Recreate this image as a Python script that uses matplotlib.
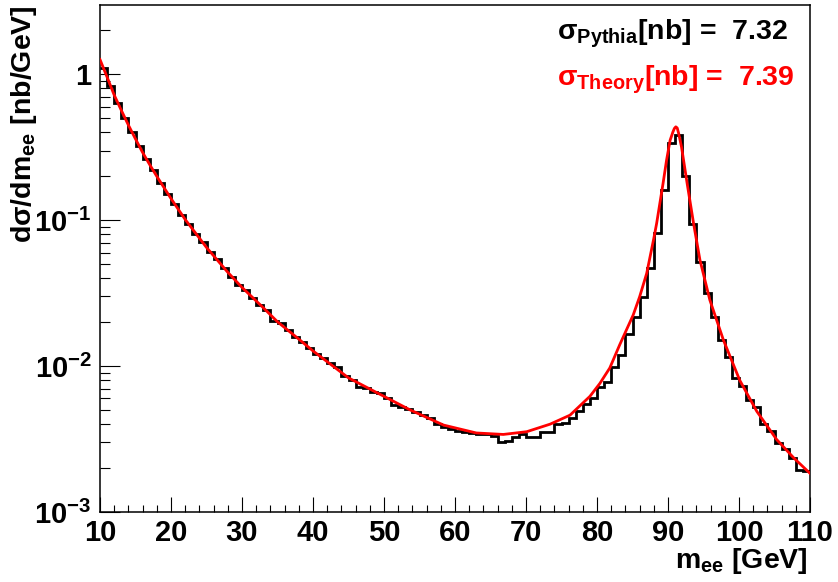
import numpy as np
import matplotlib
matplotlib.use("Agg")
import matplotlib.pyplot as plt
from matplotlib.ticker import FixedLocator, FixedFormatter, LogLocator, NullFormatter, MultipleLocator

plt.rcParams['font.family'] = ['Liberation Sans', 'DejaVu Sans']
plt.rcParams['font.weight'] = 'bold'
plt.rcParams['mathtext.fontset'] = 'custom'
plt.rcParams['mathtext.rm'] = 'Liberation Sans:bold'
plt.rcParams['mathtext.bf'] = 'Liberation Sans:bold'
plt.rcParams['mathtext.it'] = 'Liberation Sans:bold'
plt.rcParams['mathtext.default'] = 'bf'
plt.rcParams['axes.unicode_minus'] = False

# Pythia dielectron mass spectrum, 1 GeV bins from 10 to 110 GeV (nb/GeV)
bin_edges = np.arange(10, 111, 1)
pythia_xsec = [
    1.096, 0.833, 0.637, 0.503, 0.399, 0.323, 0.262, 0.220, 0.181, 0.152,
    0.130, 0.109, 0.0935, 0.0802, 0.0703, 0.0601, 0.0541, 0.0471, 0.0409, 0.0362,
    0.0331, 0.0291, 0.0261, 0.0242, 0.0204, 0.0196, 0.0178, 0.0159, 0.0147, 0.0134,
    0.0121, 0.0114, 0.0105, 0.00988, 0.00857, 0.00800, 0.00721, 0.00709, 0.00666, 0.00649,
    0.00606, 0.00545, 0.00525, 0.00507, 0.00485, 0.00461, 0.00444, 0.00398, 0.00383, 0.00368,
    0.00358, 0.00352, 0.00348, 0.00341, 0.00340, 0.00331, 0.00303, 0.00308, 0.00327, 0.00341,
    0.00324, 0.00324, 0.00352, 0.00356, 0.00398, 0.00408, 0.00444, 0.00491, 0.00548, 0.00600,
    0.00721, 0.00780, 0.00988, 0.01188, 0.01655, 0.02174, 0.0298, 0.0467, 0.0811, 0.1606,
    0.3356, 0.383, 0.201, 0.0939, 0.0513, 0.0318, 0.0217, 0.0152, 0.01156, 0.00822,
    0.00728, 0.00590, 0.00525, 0.00398, 0.00360, 0.00295, 0.00272, 0.00235, 0.00193, 0.00191,
]

# Theory prediction sampled along the mass range
theory_mass = [
    10, 11, 12, 13, 14, 15, 16, 17, 18, 20, 22, 25, 28, 30, 33, 35, 38, 40, 45, 50,
    53.7, 58.4, 63.0, 66.8, 70.1, 73.4, 76.2, 79.0, 80.4, 81.8, 83.2, 85.1, 86.0, 87.0,
    88.0, 88.4, 89.3, 89.8, 90.3, 90.7, 90.9, 91.1, 91.3, 91.5, 91.9, 92.3, 92.7, 93.6,
    94.5, 95.9, 97.8, 100.1, 102.5, 105.3, 107.7, 110,
]
theory_xsec = [
    1.26, 0.955, 0.72, 0.566, 0.448, 0.36, 0.291, 0.240, 0.1996, 0.1406, 0.101, 0.065,
    0.0439, 0.0346, 0.0251, 0.0201, 0.0153, 0.0127, 0.0083, 0.0062,
    0.0050, 0.00394, 0.00348, 0.00340, 0.00355, 0.00400, 0.00461, 0.0062, 0.0076, 0.0097,
    0.0140, 0.0224, 0.0298, 0.0432, 0.0749, 0.095, 0.178, 0.258, 0.353, 0.403, 0.425,
    0.436, 0.428, 0.393, 0.318, 0.238, 0.178, 0.095, 0.0533, 0.0283, 0.0151, 0.0080,
    0.0049, 0.00314, 0.00235, 0.00184,
]

sigma_pythia = 7.32
sigma_theory = 7.39

y_ticks = [1e-3, 1e-2, 1e-1, 1.0]
y_tick_labels = [r'$10^{-3}$', r'$10^{-2}$', r'$10^{-1}$', '1']
x_ticks = [10, 20, 30, 40, 50, 60, 70, 80, 90, 100, 110]

W, H = 838, 582
fig = plt.figure(figsize=(W / 100, H / 100), dpi=100)
ax = fig.add_axes([100 / W, (H - 512) / H, 710 / W, 507 / H])

ax.stairs(pythia_xsec, bin_edges, baseline=None, color='black', linewidth=2.0, zorder=2)
ax.plot(theory_mass, theory_xsec, color='#ff0000', linewidth=2.0, zorder=3)

ax.set_yscale('log')
ax.set_xlim(10, 110)
ax.set_ylim(1e-3, 2.98)

ax.xaxis.set_major_locator(FixedLocator(x_ticks))
ax.xaxis.set_minor_locator(MultipleLocator(2))
ax.yaxis.set_major_locator(FixedLocator(y_ticks))
ax.yaxis.set_major_formatter(FixedFormatter(y_tick_labels))
ax.yaxis.set_minor_locator(LogLocator(base=10, subs=np.arange(2, 10)))
ax.yaxis.set_minor_formatter(NullFormatter())

ax.tick_params(axis='both', which='both', direction='in', top=False, right=False,
               width=0.8, color='black')
ax.tick_params(axis='x', which='major', length=10.8, pad=5, labelsize=21)
ax.tick_params(axis='x', which='minor', length=5.2)
ax.tick_params(axis='y', which='major', length=14.4, pad=6, labelsize=21)
ax.tick_params(axis='y', which='minor', length=7.2)
for lab in ax.get_xticklabels() + ax.get_yticklabels():
    lab.set_fontweight('bold')

for sp in ax.spines.values():
    sp.set_linewidth(1.1)

# Axis titles, aligned to the ends of the axes
fig.text(24 / W, 1 - 5 / H, 'dσ/dm$_{ee}$ [nb/GeV]', rotation=90,
         ha='center', va='top', fontsize=20.5, fontweight='bold')
fig.text(808 / W, 14 / H, 'm$_{ee}$ [GeV]', ha='right', va='baseline',
         fontsize=20.5, fontweight='bold')

# Integrated cross sections
fig.text(557 / W, 1 - 40 / H, 'σ$_{Pythia}$[nb] =  %.2f' % sigma_pythia,
         ha='left', va='baseline', fontsize=20.5, fontweight='bold', color='black')
fig.text(557 / W, 1 - 86 / H, 'σ$_{Theory}$[nb] =  %.2f' % sigma_theory,
         ha='left', va='baseline', fontsize=20.5, fontweight='bold', color='#ff0000')

fig.savefig('out.png', dpi=100)
